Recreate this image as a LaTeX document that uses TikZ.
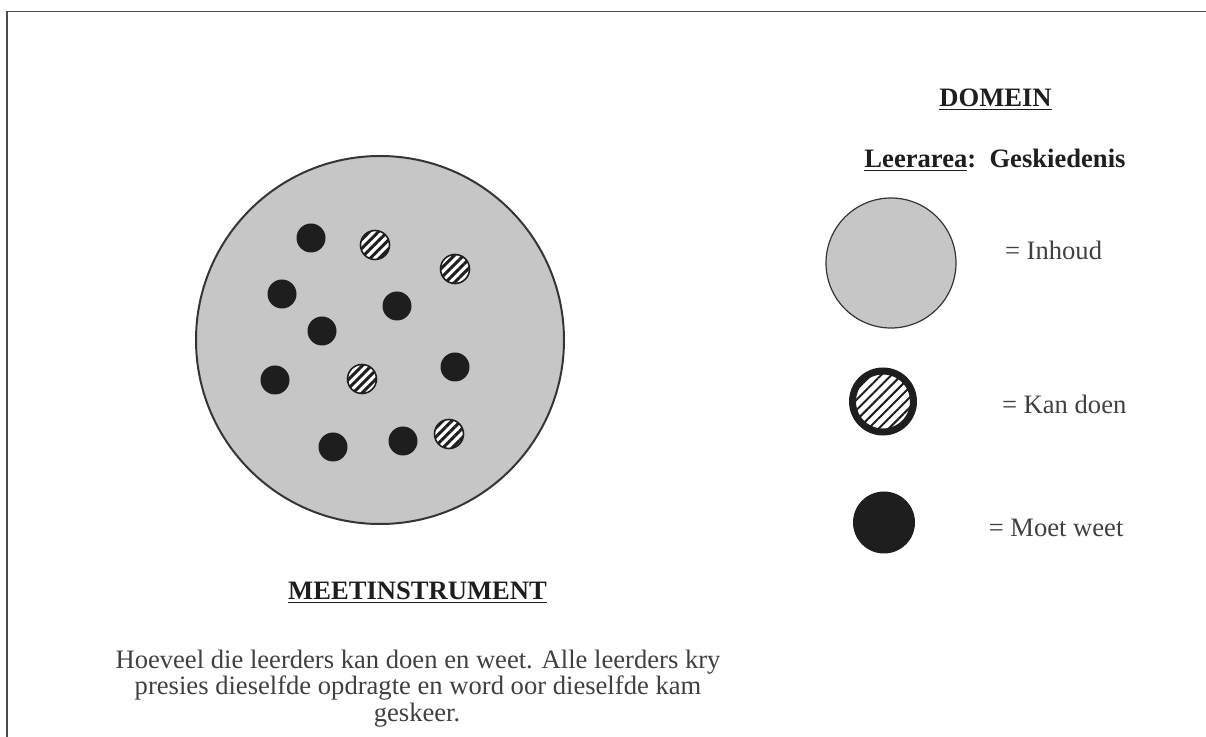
\documentclass[tikz,border=0pt]{standalone}
\usepackage{fontspec}
\setmainfont{Liberation Serif}
\usetikzlibrary{patterns.meta, positioning}
\definecolor{domeingray}{HTML}{C6C6C6}
\definecolor{inkdark}{HTML}{1E1E1E}
\tikzset{
  domeinbox/.style={
    circle, draw=inkdark!90, line width=1pt, fill=domeingray, inner sep=0pt
  },
  moetdot/.style={
    circle, fill=inkdark, inner sep=0pt, minimum size=14.5pt
  },
  kandot/.style={
    circle, draw=inkdark, line width=0.8pt, inner sep=0pt, minimum size=14.5pt,
    preaction={fill=white},
    pattern={Lines[angle=45, distance=3.2pt, line width=1.5pt]},
    pattern color=inkdark
  },
  headlabel/.style={
    font=\fontsize{13.3}{15}\selectfont\bfseries, text=inkdark, anchor=base
  },
  legendlabel/.style={
    font=\fontsize{13.3}{15}\selectfont, text=inkdark!85, anchor=base west
  },
  bodytext/.style={
    font=\fontsize{13.3}{13.3}\selectfont, text=inkdark!85, anchor=base
  },
}
\begin{document}
\begin{tikzpicture}[x=0.5pt, y=-0.5pt]
  \useasboundingbox (0,0) rectangle (1206,737);
  % -- frame --
  \draw[inkdark!80, line width=0.6pt] (7,737) -- (7,11.5) -- (1206,11.5);

  % -- domain circle with items --
  \node[domeinbox, minimum size=184pt] (domein) at (380,340) {};

  \node[moetdot] (m1) at (311,238) {};
  \node[moetdot] (m2) at (282,294) {};
  \node[moetdot] (m3) at (397,306) {};
  \node[moetdot] (m4) at (322,331) {};
  \node[moetdot] (m5) at (275,380) {};
  \node[moetdot] (m6) at (455,367) {};
  \node[moetdot] (m7) at (333,447) {};
  \node[moetdot] (m8) at (403,441) {};

  \node[kandot] (k1) at (375,245) {};
  \node[kandot] (k2) at (455,269) {};
  \node[kandot] (k3) at (362,379) {};
  \node[kandot] (k4) at (449,434) {};

  % -- legend --
  \node[headlabel] (domeintitle) at (995.5,106.7) {\underline{DOMEIN}};
  \node[headlabel] (leerarea) at (995,167.3) {\underline{Leerarea}:\ \ Geskiedenis};

  \node[domeinbox, line width=0.6pt, minimum size=65pt] (leginhoud) at (891,263) {};
  \node[kandot, line width=3.5pt, minimum size=30.5pt,
    pattern={Lines[angle=45, distance=3.6pt, line width=1pt]}] (legkan) at (883,401.5) {};
  \node[moetdot, minimum size=31pt] (legmoet) at (884,522.5) {};

  \node[legendlabel] (txtinhoud) at (998,260) {= Inhoud};
  \node[legendlabel] (txtkan) at (995,413.3) {= Kan doen};
  \node[legendlabel] (txtmoet) at (981.7,536.7) {= Moet weet};

  % -- measuring instrument --
  \node[headlabel] (meet) at (417.5,599.3) {\underline{MEETINSTRUMENT}};
  \node[bodytext] (body1) at (418,668.3)
    {Hoeveel die leerders kan doen en weet. Alle leerders kry};
  \node[bodytext] (body2) at (418,695)
    {presies dieselfde opdragte en word oor dieselfde kam};
  \node[bodytext] (body3) at (417,721.7) {geskeer.};
\end{tikzpicture}
\end{document}
